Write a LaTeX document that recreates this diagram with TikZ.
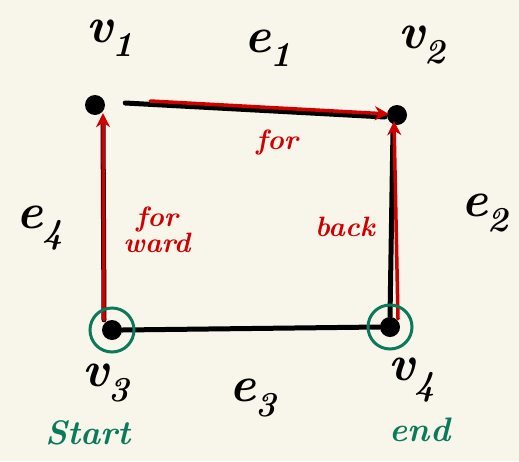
\documentclass[tikz,border=0pt]{standalone}
\usetikzlibrary{arrows.meta}
\definecolor{paper}{HTML}{F8F5EA}
\definecolor{pen}{HTML}{D00000}
\definecolor{ink}{HTML}{0B7A5C}
\tikzset{
  dot/.style={circle,fill=black,inner sep=0pt,minimum size=20pt},
  edge/.style={line width=5pt,line cap=round},
  walk/.style={pen,line width=3.5pt,line cap=round,-{Stealth[length=14pt,width=14pt]}},
  ring/.style={circle,draw=ink,line width=3pt,inner sep=0pt,minimum size=44pt},
  biglabel/.style={font=\fontsize{50}{50}\selectfont\bfseries\itshape},
  walklabel/.style={pen,font=\fontsize{28}{24}\selectfont\bfseries\itshape,align=center},
  endlabel/.style={ink,font=\fontsize{34}{34}\selectfont\bfseries\itshape}
}
\begin{document}
\begin{tikzpicture}[x=1pt,y=-1pt]
\fill[paper] (0,0) rectangle (519,461);
% vertices
\node[dot] (v1) at (95,105) {};
\node[dot] (v2) at (397,115) {};
\node[dot] (v3) at (112,330) {};
\node[dot] (v4) at (390,327) {};
% edges
\draw[edge] ([xshift=20pt,yshift=2pt]v1.east) -- ([xshift=-2pt,yshift=-2pt]v2.west);
\draw[edge] ([xshift=-4pt,yshift=-4pt]v2.south) -- (v4.north);
\draw[edge] (v3.east) -- (v4.west);
\draw[edge] ([xshift=8pt,yshift=-4pt]v1.south) -- ([xshift=-8pt]v3.north);
% the walk
\draw[walk] ([xshift=-8pt]v3.north) -- ([xshift=8pt,yshift=2pt]v1.south);
\draw[walk] ([xshift=45pt,yshift=4pt]v1.east) -- ([xshift=2pt,yshift=1pt]v2.west);
\draw[walk] ([xshift=8pt,yshift=-2pt]v4.north) -- ([xshift=-3pt,yshift=4pt]v2.south);
% start and end
\node[ring] (s) at (v3) {};
\node[ring] (t) at (v4) {};
% labels
\node[biglabel] (lv1) at (110,38) {v\textsubscript{1}};
\node[biglabel] (lv2) at (422,45) {v\textsubscript{2}};
\node[biglabel] (lv3) at (106,383) {v\textsubscript{3}};
\node[biglabel] (lv4) at (412,380) {v\textsubscript{4}};
\node[biglabel] (le1) at (268,48) {e\textsubscript{1}};
\node[biglabel] (le2) at (485,213) {e\textsubscript{2}};
\node[biglabel] (le3) at (253,398) {e\textsubscript{3}};
\node[biglabel] (le4) at (40,228) {e\textsubscript{4}};
\node[walklabel] (lfor) at (277,142) {for};
\node[walklabel] (lfwd) at (157,230) {for\\ward};
\node[walklabel] (lback) at (345,227) {back};
\node[endlabel] (lstart) at (88,433) {Start};
\node[endlabel] (lend) at (420,430) {end};
\end{tikzpicture}
\end{document}
